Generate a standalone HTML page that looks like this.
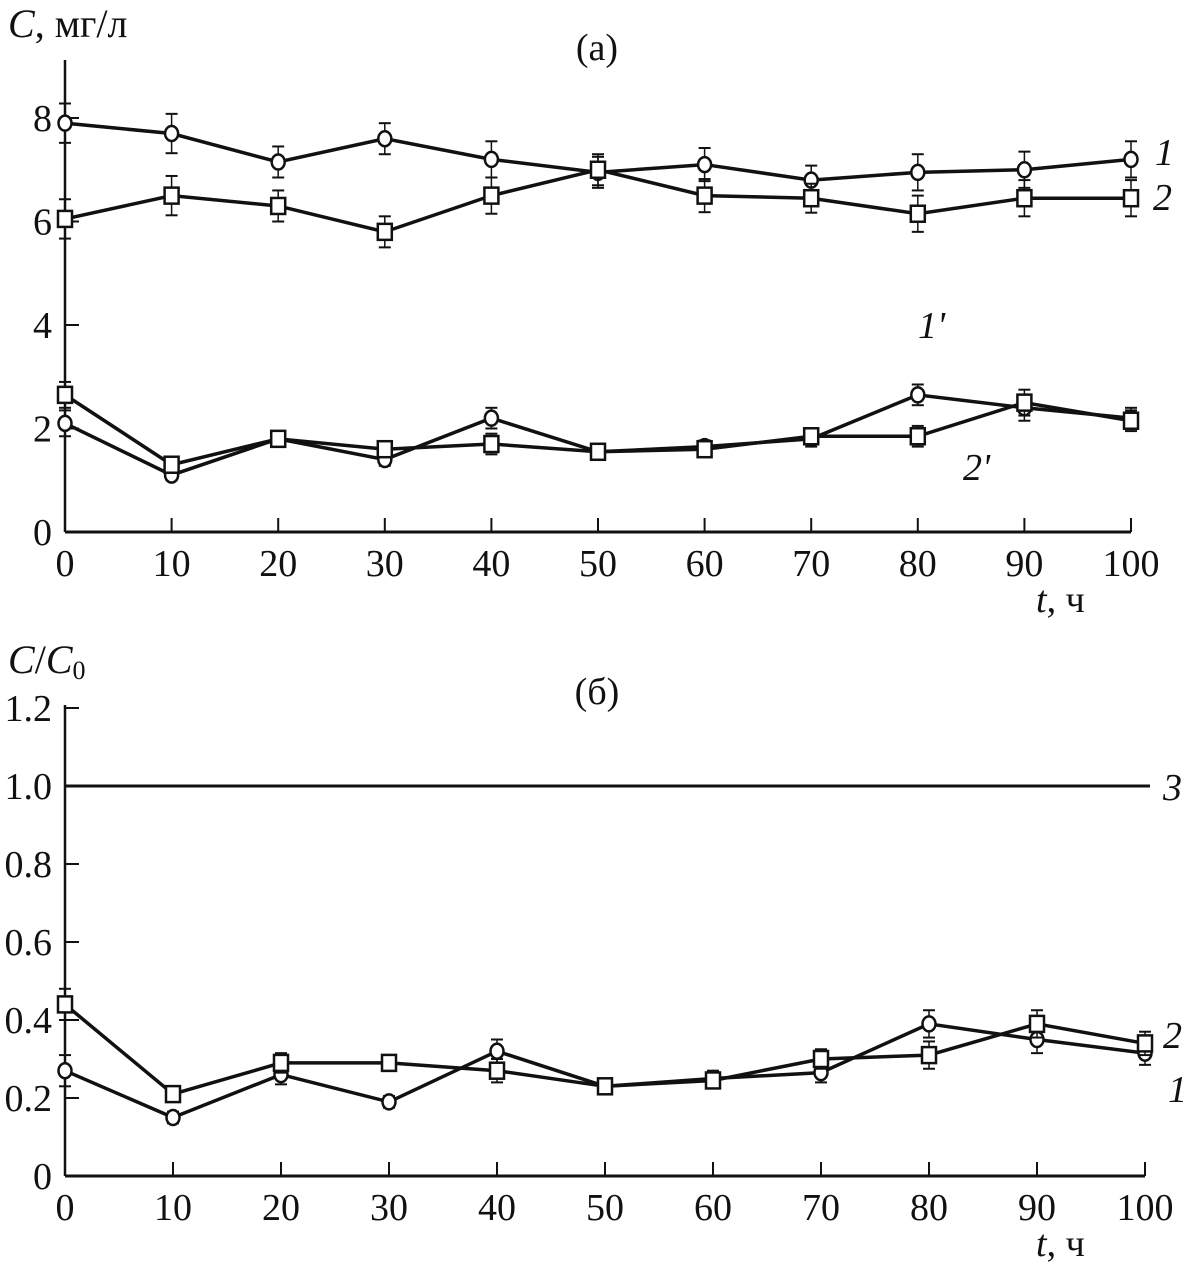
<!DOCTYPE html>
<html><head><meta charset="utf-8"><style>
body{margin:0;background:#fff;}
svg text{font-family:"Liberation Serif",serif;fill:#111;}
</style></head><body>
<svg id="c" width="1190" height="1266" xmlns="http://www.w3.org/2000/svg"></svg>
<script>
const xCats=[0,10,20,30,40,50,60,70,80,90,100];
const aS1=[7.9,7.7,7.15,7.6,7.2,6.95,7.1,6.8,6.95,7.0,7.2];
const aS2=[6.05,6.5,6.3,5.8,6.5,7.0,6.5,6.45,6.15,6.45,6.45];
const aS1p=[2.1,1.1,1.8,1.4,2.2,1.55,1.65,1.8,2.65,2.4,2.2];
const aS2p=[2.65,1.3,1.8,1.6,1.7,1.55,1.6,1.85,1.85,2.5,2.15];
const aErr=[0.38,0.38,0.3,0.3,0.35,0.3,0.32,0.28,0.35,0.35,0.35];
const aErrP=[0.25,0.1,0.12,0.12,0.2,0.1,0.12,0.15,0.2,0.25,0.2];
const aYTicks=[0,2,4,6,8];
const bS1=[0.27,0.15,0.26,0.19,0.32,0.23,0.25,0.265,0.39,0.35,0.315];
const bS2=[0.44,0.21,0.29,0.29,0.27,0.23,0.245,0.30,0.31,0.39,0.34];
const bErr=[0.04,0.015,0.025,0.015,0.03,0.015,0.02,0.025,0.035,0.035,0.03];
const bS3=1.0;
const bYTicks=["0","0.2","0.4","0.6","0.8","1.0","1.2"];
const NS="http://www.w3.org/2000/svg";
const svg=document.getElementById('c');
function mk(t,a,p){const e=document.createElementNS(NS,t);for(const k in a)e.setAttribute(k,a[k]);(p||svg).appendChild(e);return e;}
function txt(x,y,s,sz,anchor,italic){const e=mk('text',{x:x,y:y,'font-size':sz,'text-anchor':anchor||'middle'});if(italic)e.setAttribute('font-style','italic');e.textContent=s;return e;}
function panel(name,x0,x1,y0,yScale,yMax,yTop){
  const X=v=>x0+(v/100)*(x1-x0);
  const Y=v=>y0-v*yScale;
  const g=mk('g',{});
  
  
  mk('line',{x1:x0,y1:y0,x2:x1,y2:y0,stroke:'#111','stroke-width':3},g);
  mk('line',{x1:x0,y1:y0,x2:x0,y2:yTop,stroke:'#111','stroke-width':2.5},g);
  xCats.forEach(v=>{
    mk('line',{x1:X(v),y1:y0,x2:X(v),y2:y0-14,stroke:'#111','stroke-width':2},g);
    const t=txt(X(v),y0+44,String(v),38);
    
    
  });
  return {X,Y,g};
}
function series(P,name,vals,err,shape){
  const g=mk('g',{});
  
  
  mk('polyline',{points:vals.map((v,i)=>P.X(xCats[i])+','+P.Y(v)).join(' '),fill:'none',stroke:'#111','stroke-width':3.5},g);
  vals.forEach((v,i)=>{
    const x=P.X(xCats[i]),y=P.Y(v),e=err[i];
    mk('line',{x1:x,y1:P.Y(v+e),x2:x,y2:P.Y(v-e),stroke:'#111','stroke-width':1.5},g);
    mk('line',{x1:x-6,y1:P.Y(v+e),x2:x+6,y2:P.Y(v+e),stroke:'#111','stroke-width':2},g);
    mk('line',{x1:x-6,y1:P.Y(v-e),x2:x+6,y2:P.Y(v-e),stroke:'#111','stroke-width':2},g);
    let m;
    if(shape==='c') m=mk('ellipse',{cx:x,cy:y,rx:6.5,ry:7.5,fill:'#fff',stroke:'#111','stroke-width':2.5},g);
    else m=mk('rect',{x:x-7,y:y-8,width:14,height:16,fill:'#fff',stroke:'#111','stroke-width':2.5},g);
    
    
  });
}
// panel a
const A=panel('panel-a',65,1131,532,51.75,9,60);
aYTicks.forEach(v=>{
  mk('line',{x1:65,y1:A.Y(v),x2:79,y2:A.Y(v),stroke:'#111','stroke-width':2});
  const t=txt(52,A.Y(v)+13,String(v),38,'end');
  
});
series(A,'series-1',aS1,aErr,'c');
series(A,'series-2',aS2,aErr,'s');
series(A,'series-1-prime',aS1p,aErrP,'c');
series(A,'series-2-prime',aS2p,aErrP,'s');
let t;
t=txt(8,37,'',40,'start');t.innerHTML='<tspan font-style="italic">C</tspan>, мг/л';
t=txt(597,60,'(а)',38);
t=txt(1036,612,'',38,'start');t.innerHTML='<tspan font-style="italic">t</tspan>, ч';
t=txt(1155,165,'1',38,'start',1);
t=txt(1153,210,'2',38,'start',1);
t=txt(918,338,"1'",38,'start',1);
t=txt(963,480,"2'",38,'start',1);
// panel b
const B=panel('panel-b',65,1145,1176,390,1.2,705);
bYTicks.forEach(s=>{
  const v=parseFloat(s);
  mk('line',{x1:65,y1:B.Y(v),x2:79,y2:B.Y(v),stroke:'#111','stroke-width':2});
  const t=txt(52,B.Y(v)+13,s,38,'end');
  
});
const l3=mk('line',{x1:65,y1:B.Y(bS3),x2:1150,y2:B.Y(bS3),stroke:'#111','stroke-width':3});

series(B,'series-b-1',bS1,bErr,'c');
series(B,'series-b-2',bS2,bErr,'s');
t=txt(8,673,'',40,'start');t.innerHTML='<tspan font-style="italic">C</tspan>/<tspan font-style="italic">C</tspan><tspan font-size="26" dy="6">0</tspan>';
t=txt(597,704,'(б)',38);
t=txt(1036,1256,'',38,'start');t.innerHTML='<tspan font-style="italic">t</tspan>, ч';
t=txt(1163,800,'3',38,'start',1);
t=txt(1163,1048,'2',38,'start',1);
t=txt(1168,1102,'1',38,'start',1);
</script>
</body></html>
